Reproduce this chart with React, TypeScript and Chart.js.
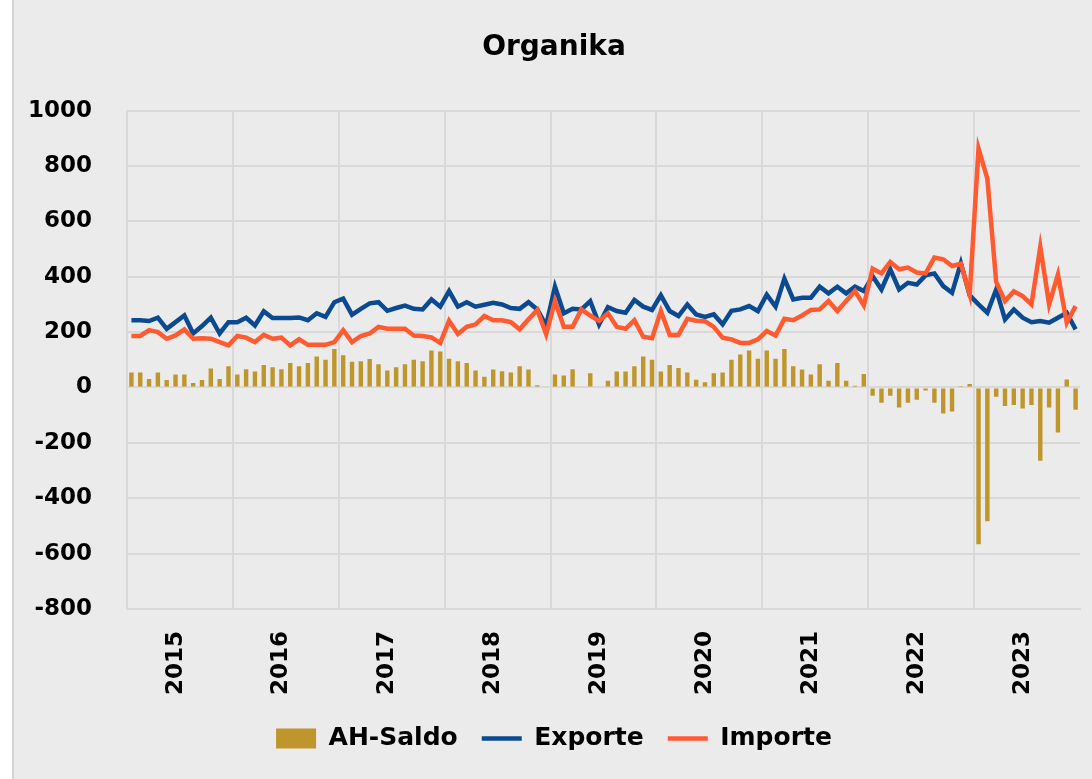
import React, { useEffect, useRef } from 'react';
import { Chart, registerables } from 'chart.js';

Chart.register(...registerables);

const years = ['2015', '2016', '2017', '2018', '2019', '2020', '2021', '2022', '2023'];
const months = ['01', '02', '03', '04', '05', '06', '07', '08', '09', '10', '11', '12'];
const categories = years.flatMap((y) => months.map((m) => `${y}-${m}`));

const saldo = [
  54, 54, 31, 54, 27, 47, 47, 16, 27, 69, 31, 77,
  47, 66, 58, 81, 73, 66, 88, 77, 88, 112, 100, 139,
  116, 93, 95, 103, 84, 61, 73, 84, 100, 95, 134, 130,
  104, 95, 88, 61, 39, 65, 59, 54, 77, 65, 8, 0,
  47, 43, 66, 0, 51, 0, 24, 58, 58, 77, 112, 100,
  58, 81, 70, 54, 28, 19, 51, 54, 100, 119, 134, 104,
  134, 104, 139, 77, 65, 47, 84, 24, 88, 24, 6, 49,
  -30, -55, -30, -72, -55, -44, -11, -55, -94, -87, 2, 13,
  -566, -483, -33, -67, -63, -76, -63, -265, -72, -163, 29, -80,
];

const exporte = [
  243, 243, 240, 252, 212, 236, 260, 195, 222, 252, 195, 236,
  236, 252, 224, 275, 251, 251, 251, 253, 243, 268, 255, 308,
  321, 263, 284, 304, 308, 277, 287, 296, 284, 282, 318, 292,
  348, 292, 308, 292, 299, 306, 300, 287, 284, 308, 282, 224,
  364, 268, 284, 282, 312, 228, 290, 276, 270, 316, 292, 280,
  333, 276, 258, 300, 264, 255, 264, 228, 277, 282, 294, 276,
  335, 292, 393, 318, 324, 324, 364, 340, 364, 340, 364, 348,
  402, 354, 427, 354, 378, 372, 405, 412, 366, 342, 449, 333,
  300, 270, 354, 246, 282, 252, 236, 240, 234, 252, 270, 210,
];

const importe = [
  186, 186, 207, 200, 176, 188, 210, 176, 178, 176, 164, 152,
  186, 180, 164, 190, 176, 180, 152, 174, 154, 154, 154, 164,
  207, 164, 186, 195, 219, 212, 212, 212, 188, 186, 181, 161,
  241, 193, 219, 228, 258, 243, 243, 236, 210, 246, 280, 192,
  312, 219, 219, 282, 260, 240, 268, 219, 212, 243, 183, 178,
  276, 190, 190, 248, 241, 239, 219, 180, 174, 161, 161, 174,
  204, 188, 248, 243, 260, 280, 282, 312, 276, 312, 348, 296,
  429, 412, 453, 427, 433, 415, 412, 469, 463, 439, 447, 336,
  863, 754, 381, 312, 347, 330, 300, 508, 300, 408, 234, 294,
];

const yMin = -800;
const yMax = 1000;
const yStep = 200;

const FONT = 'DejaVu Sans';
const GRID = '#d9d9d9';

const panelPlugin = {
  id: 'panel',
  beforeDraw(chart: any) {
    const { ctx, width, height } = chart;
    ctx.save();
    ctx.fillStyle = '#ffffff';
    ctx.fillRect(0, 0, width, height);
    ctx.fillStyle = '#ebebeb';
    ctx.fillRect(12, 0, width - 12, height);
    ctx.strokeStyle = '#d4d4d4';
    ctx.lineWidth = 2;
    ctx.beginPath();
    ctx.moveTo(13, 0);
    ctx.lineTo(13, height);
    ctx.stroke();
    ctx.restore();
  },
};

export default function App() {
  const ref = useRef<HTMLCanvasElement | null>(null);

  useEffect(() => {
    if (!ref.current) return;
    const chart = new Chart(ref.current, {
      type: 'bar',
      data: {
        labels: categories,
        datasets: [
          {
            type: 'bar',
            label: 'AH-Saldo',
            data: saldo,
            backgroundColor: '#bf962c',
            borderWidth: 0,
            categoryPercentage: 1,
            barPercentage: 0.5,
            pointStyle: 'rect',
            order: 3,
          } as any,
          {
            type: 'line',
            label: 'Exporte',
            data: exporte,
            borderColor: '#0b4a90',
            backgroundColor: '#0b4a90',
            borderWidth: 4.5,
            pointRadius: 0,
            tension: 0,
            pointStyle: 'line',
            order: 2,
          },
          {
            type: 'line',
            label: 'Importe',
            data: importe,
            borderColor: '#ff5a30',
            backgroundColor: '#ff5a30',
            borderWidth: 4.5,
            pointRadius: 0,
            tension: 0,
            pointStyle: 'line',
            order: 1,
          },
        ],
      },
      options: {
        responsive: false,
        animation: false,
        devicePixelRatio: 1,
        layout: { padding: { left: 28, right: 12, top: 31, bottom: 18 } },
        plugins: {
          title: {
            display: true,
            text: 'Organika',
            color: '#000',
            font: { family: FONT, weight: 'bold', size: 28 },
            padding: { top: 0, bottom: 46 },
          },
          legend: {
            position: 'bottom',
            labels: {
              color: '#000',
              font: { family: FONT, weight: 'bold', size: 25 },
              usePointStyle: true,
              pointStyleWidth: 40,
              boxWidth: 40,
              boxHeight: 20,
              padding: 24,
              sort: (a: any, b: any) => a.datasetIndex - b.datasetIndex,
            },
          },
          tooltip: { enabled: false },
        },
        scales: {
          x: {
            type: 'category',
            offset: true,
            grid: {
              offset: true,
              drawTicks: false,
              lineWidth: 2,
              color: (c: any) => (c.index % 12 === 0 ? GRID : 'rgba(0,0,0,0)'),
            },
            border: { display: true, color: GRID, width: 2 },
            ticks: {
              autoSkip: false,
              maxRotation: 90,
              minRotation: 90,
              padding: 22,
              color: '#000',
              font: { family: FONT, weight: 'bold', size: 23 },
              callback: (_v: any, i: number) => (i % 12 === 5 ? years[Math.floor(i / 12)] : ''),
            },
            afterFit: (s: any) => {
              s.height = 93;
              s.paddingLeft = 0;
              s.paddingRight = 0;
            },
          },
          y: {
            min: yMin,
            max: yMax,
            grid: { drawTicks: false, lineWidth: 2, color: GRID },
            border: { display: true, color: GRID, width: 2 },
            ticks: {
              stepSize: yStep,
              padding: 35,
              color: '#000',
              font: { family: FONT, weight: 'bold', size: 23 },
              callback: (v: any) => String(v),
            },
            afterFit: (s: any) => {
              s.width = 99;
            },
          },
        },
      },
      plugins: [panelPlugin],
    });
    return () => chart.destroy();
  }, []);

  return (
    <div style={{ position: 'fixed', left: 0, top: 0, width: 1092, height: 779 }}>
      <canvas ref={ref} width={1092} height={779} style={{ width: 1092, height: 779, display: 'block' }} />
    </div>
  );
}
